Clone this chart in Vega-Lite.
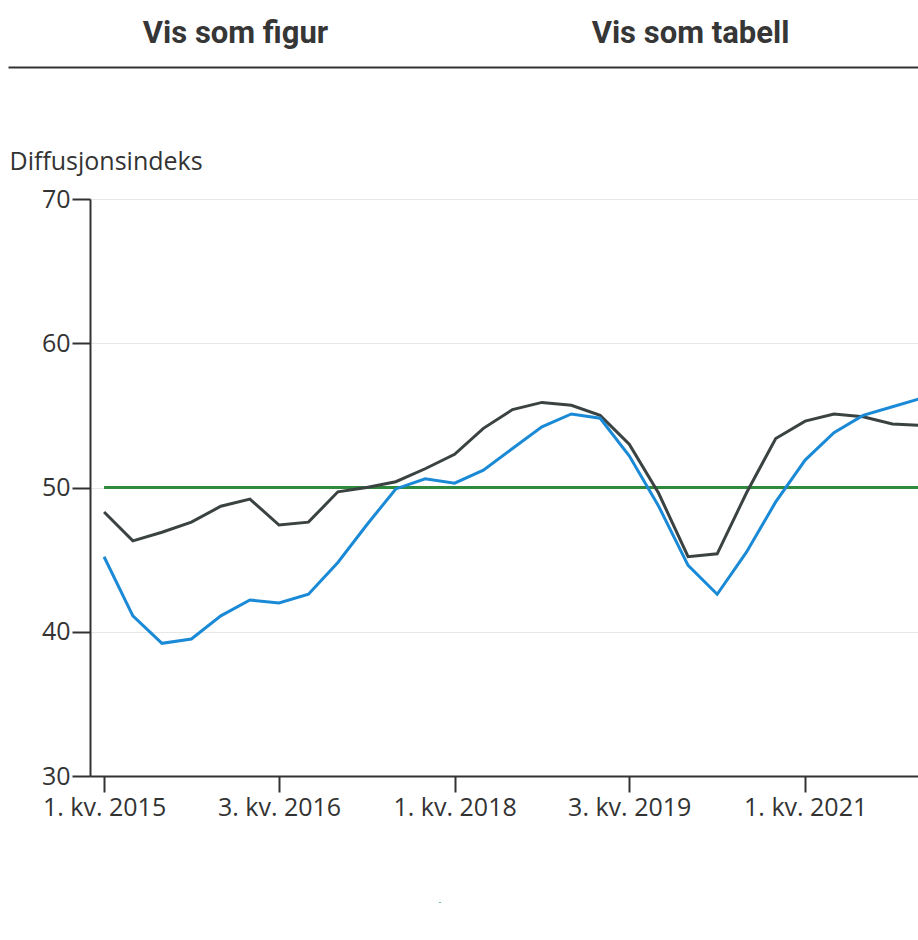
{
  "$schema": "https://vega.github.io/schema/vega-lite/v6.json",
  "padding": {"left": 8, "top": 0, "right": 0, "bottom": 0},
  "spacing": 82,
  "config": {
    "view": {"stroke": null},
    "font": "Open Sans",
    "axis": {"labelFont": "Open Sans", "titleFont": "Open Sans", "labelColor": "#333333", "titleColor": "#333333"},
    "legend": {"labelFont": "Open Sans"}
  },
  "vconcat": [
    {
      "width": 910,
      "height": 67,
      "data": {"values": [{"fane": "Vis som figur"}, {"fane": "Vis som tabell"}]},
      "mark": {"type": "text", "font": "Roboto", "fontWeight": "bold", "fontSize": 31, "color": "#363636"},
      "encoding": {
        "x": {
          "field": "fane", "type": "nominal", "sort": null,
          "scale": {"paddingInner": 0, "paddingOuter": 0},
          "axis": {"title": null, "labels": false, "ticks": false, "grid": false, "domainColor": "#333333", "domainWidth": 2}
        },
        "text": {"field": "fane"}
      }
    },
    {
      "spacing": 0,
      "hconcat": [
        {
          "width": 1,
          "height": 1,
          "data": {"values": []},
          "mark": "point"
        },
        {
          "width": 829,
          "height": 577,
          "data": {"values": [
            {"kvartal": "2015-01-01", "serie": "Vendepunktsverdi", "verdi": 50},
            {"kvartal": "2015-04-01", "serie": "Vendepunktsverdi", "verdi": 50},
            {"kvartal": "2015-07-01", "serie": "Vendepunktsverdi", "verdi": 50},
            {"kvartal": "2015-10-01", "serie": "Vendepunktsverdi", "verdi": 50},
            {"kvartal": "2016-01-01", "serie": "Vendepunktsverdi", "verdi": 50},
            {"kvartal": "2016-04-01", "serie": "Vendepunktsverdi", "verdi": 50},
            {"kvartal": "2016-07-01", "serie": "Vendepunktsverdi", "verdi": 50},
            {"kvartal": "2016-10-01", "serie": "Vendepunktsverdi", "verdi": 50},
            {"kvartal": "2017-01-01", "serie": "Vendepunktsverdi", "verdi": 50},
            {"kvartal": "2017-04-01", "serie": "Vendepunktsverdi", "verdi": 50},
            {"kvartal": "2017-07-01", "serie": "Vendepunktsverdi", "verdi": 50},
            {"kvartal": "2017-10-01", "serie": "Vendepunktsverdi", "verdi": 50},
            {"kvartal": "2018-01-01", "serie": "Vendepunktsverdi", "verdi": 50},
            {"kvartal": "2018-04-01", "serie": "Vendepunktsverdi", "verdi": 50},
            {"kvartal": "2018-07-01", "serie": "Vendepunktsverdi", "verdi": 50},
            {"kvartal": "2018-10-01", "serie": "Vendepunktsverdi", "verdi": 50},
            {"kvartal": "2019-01-01", "serie": "Vendepunktsverdi", "verdi": 50},
            {"kvartal": "2019-04-01", "serie": "Vendepunktsverdi", "verdi": 50},
            {"kvartal": "2019-07-01", "serie": "Vendepunktsverdi", "verdi": 50},
            {"kvartal": "2019-10-01", "serie": "Vendepunktsverdi", "verdi": 50},
            {"kvartal": "2020-01-01", "serie": "Vendepunktsverdi", "verdi": 50},
            {"kvartal": "2020-04-01", "serie": "Vendepunktsverdi", "verdi": 50},
            {"kvartal": "2020-07-01", "serie": "Vendepunktsverdi", "verdi": 50},
            {"kvartal": "2020-10-01", "serie": "Vendepunktsverdi", "verdi": 50},
            {"kvartal": "2021-01-01", "serie": "Vendepunktsverdi", "verdi": 50},
            {"kvartal": "2021-04-01", "serie": "Vendepunktsverdi", "verdi": 50},
            {"kvartal": "2021-07-01", "serie": "Vendepunktsverdi", "verdi": 50},
            {"kvartal": "2021-10-01", "serie": "Vendepunktsverdi", "verdi": 50},
            {"kvartal": "2022-01-01", "serie": "Vendepunktsverdi", "verdi": 50},
            {"kvartal": "2015-01-01", "serie": "Totalt produksjonsvolum", "verdi": 48.3},
            {"kvartal": "2015-04-01", "serie": "Totalt produksjonsvolum", "verdi": 46.3},
            {"kvartal": "2015-07-01", "serie": "Totalt produksjonsvolum", "verdi": 46.9},
            {"kvartal": "2015-10-01", "serie": "Totalt produksjonsvolum", "verdi": 47.6},
            {"kvartal": "2016-01-01", "serie": "Totalt produksjonsvolum", "verdi": 48.7},
            {"kvartal": "2016-04-01", "serie": "Totalt produksjonsvolum", "verdi": 49.2},
            {"kvartal": "2016-07-01", "serie": "Totalt produksjonsvolum", "verdi": 47.4},
            {"kvartal": "2016-10-01", "serie": "Totalt produksjonsvolum", "verdi": 47.6},
            {"kvartal": "2017-01-01", "serie": "Totalt produksjonsvolum", "verdi": 49.7},
            {"kvartal": "2017-04-01", "serie": "Totalt produksjonsvolum", "verdi": 50.0},
            {"kvartal": "2017-07-01", "serie": "Totalt produksjonsvolum", "verdi": 50.4},
            {"kvartal": "2017-10-01", "serie": "Totalt produksjonsvolum", "verdi": 51.3},
            {"kvartal": "2018-01-01", "serie": "Totalt produksjonsvolum", "verdi": 52.3},
            {"kvartal": "2018-04-01", "serie": "Totalt produksjonsvolum", "verdi": 54.1},
            {"kvartal": "2018-07-01", "serie": "Totalt produksjonsvolum", "verdi": 55.4},
            {"kvartal": "2018-10-01", "serie": "Totalt produksjonsvolum", "verdi": 55.9},
            {"kvartal": "2019-01-01", "serie": "Totalt produksjonsvolum", "verdi": 55.7},
            {"kvartal": "2019-04-01", "serie": "Totalt produksjonsvolum", "verdi": 55.0},
            {"kvartal": "2019-07-01", "serie": "Totalt produksjonsvolum", "verdi": 53.0},
            {"kvartal": "2019-10-01", "serie": "Totalt produksjonsvolum", "verdi": 49.6},
            {"kvartal": "2020-01-01", "serie": "Totalt produksjonsvolum", "verdi": 45.2},
            {"kvartal": "2020-04-01", "serie": "Totalt produksjonsvolum", "verdi": 45.4},
            {"kvartal": "2020-07-01", "serie": "Totalt produksjonsvolum", "verdi": 49.6},
            {"kvartal": "2020-10-01", "serie": "Totalt produksjonsvolum", "verdi": 53.4},
            {"kvartal": "2021-01-01", "serie": "Totalt produksjonsvolum", "verdi": 54.6},
            {"kvartal": "2021-04-01", "serie": "Totalt produksjonsvolum", "verdi": 55.1},
            {"kvartal": "2021-07-01", "serie": "Totalt produksjonsvolum", "verdi": 54.9},
            {"kvartal": "2021-10-01", "serie": "Totalt produksjonsvolum", "verdi": 54.4},
            {"kvartal": "2022-01-01", "serie": "Totalt produksjonsvolum", "verdi": 54.3},
            {"kvartal": "2015-01-01", "serie": "Gjennomsnitt", "verdi": 45.2},
            {"kvartal": "2015-04-01", "serie": "Gjennomsnitt", "verdi": 41.1},
            {"kvartal": "2015-07-01", "serie": "Gjennomsnitt", "verdi": 39.2},
            {"kvartal": "2015-10-01", "serie": "Gjennomsnitt", "verdi": 39.5},
            {"kvartal": "2016-01-01", "serie": "Gjennomsnitt", "verdi": 41.1},
            {"kvartal": "2016-04-01", "serie": "Gjennomsnitt", "verdi": 42.2},
            {"kvartal": "2016-07-01", "serie": "Gjennomsnitt", "verdi": 42.0},
            {"kvartal": "2016-10-01", "serie": "Gjennomsnitt", "verdi": 42.6},
            {"kvartal": "2017-01-01", "serie": "Gjennomsnitt", "verdi": 44.8},
            {"kvartal": "2017-04-01", "serie": "Gjennomsnitt", "verdi": 47.4},
            {"kvartal": "2017-07-01", "serie": "Gjennomsnitt", "verdi": 49.9},
            {"kvartal": "2017-10-01", "serie": "Gjennomsnitt", "verdi": 50.6},
            {"kvartal": "2018-01-01", "serie": "Gjennomsnitt", "verdi": 50.3},
            {"kvartal": "2018-04-01", "serie": "Gjennomsnitt", "verdi": 51.2},
            {"kvartal": "2018-07-01", "serie": "Gjennomsnitt", "verdi": 52.7},
            {"kvartal": "2018-10-01", "serie": "Gjennomsnitt", "verdi": 54.2},
            {"kvartal": "2019-01-01", "serie": "Gjennomsnitt", "verdi": 55.1},
            {"kvartal": "2019-04-01", "serie": "Gjennomsnitt", "verdi": 54.8},
            {"kvartal": "2019-07-01", "serie": "Gjennomsnitt", "verdi": 52.2},
            {"kvartal": "2019-10-01", "serie": "Gjennomsnitt", "verdi": 48.7},
            {"kvartal": "2020-01-01", "serie": "Gjennomsnitt", "verdi": 44.6},
            {"kvartal": "2020-04-01", "serie": "Gjennomsnitt", "verdi": 42.6},
            {"kvartal": "2020-07-01", "serie": "Gjennomsnitt", "verdi": 45.5},
            {"kvartal": "2020-10-01", "serie": "Gjennomsnitt", "verdi": 49.0},
            {"kvartal": "2021-01-01", "serie": "Gjennomsnitt", "verdi": 51.9},
            {"kvartal": "2021-04-01", "serie": "Gjennomsnitt", "verdi": 53.8},
            {"kvartal": "2021-07-01", "serie": "Gjennomsnitt", "verdi": 55.0},
            {"kvartal": "2021-10-01", "serie": "Gjennomsnitt", "verdi": 55.6},
            {"kvartal": "2022-01-01", "serie": "Gjennomsnitt", "verdi": 56.2}
          ]},
          "mark": {"type": "line", "strokeWidth": 3, "clip": true},
          "encoding": {
            "x": {
              "field": "kvartal", "type": "temporal",
              "scale": {"type": "utc", "domain": [{"year": 2014, "month": 11, "date": 18, "utc": true}, {"year": 2021, "month": 12, "date": 23, "utc": true}]},
              "axis": {
                "title": null, "grid": false, "format": "%q. kv. %Y",
                "values": [
                  {"year": 2015, "month": 1, "date": 1, "utc": true},
                  {"year": 2016, "month": 7, "date": 1, "utc": true},
                  {"year": 2018, "month": 1, "date": 1, "utc": true},
                  {"year": 2019, "month": 7, "date": 1, "utc": true},
                  {"year": 2021, "month": 1, "date": 1, "utc": true}
                ],
                "labelFontSize": 25, "labelPadding": 3,
                "tickSize": 16, "tickWidth": 2, "tickColor": "#333333",
                "domainColor": "#333333", "domainWidth": 2
              }
            },
            "y": {
              "field": "verdi", "type": "quantitative",
              "scale": {"domain": [30, 70], "nice": false, "zero": false},
              "axis": {
                "values": [30, 40, 50, 60, 70],
                "title": "Diffusjonsindeks", "titleAngle": 0, "titleAlign": "left", "titleBaseline": "alphabetic",
                "titleX": -81, "titleY": -30, "titleFontSize": 25, "titleFontWeight": "normal",
                "labelFontSize": 25, "labelPadding": 2,
                "tickSize": 18, "tickWidth": 2, "tickColor": "#333333",
                "domainColor": "#333333", "domainWidth": 2,
                "grid": true, "gridColor": "#e6e6e6", "gridWidth": 1
              }
            },
            "color": {
              "field": "serie", "type": "nominal",
              "scale": {"domain": ["Vendepunktsverdi", "Totalt produksjonsvolum", "Gjennomsnitt"], "range": ["#2f8a3c", "#3b4242", "#1a8ad6"]},
              "legend": null
            }
          }
        }
      ]
    },
    {
      "spacing": 0,
      "hconcat": [
        {
          "width": 82,
          "height": 1,
          "data": {"values": []},
          "mark": "point"
        },
        {
          "width": 700,
          "height": 1,
          "data": {"values": [
            {"serie": "Vendepunktsverdi"},
            {"serie": "Totalt produksjonsvolum"},
            {"serie": "Gjennomsnitt"}
          ]},
          "mark": {"type": "point", "filled": true, "size": 1},
          "encoding": {
            "fill": {
              "field": "serie", "type": "nominal",
              "scale": {"domain": ["Vendepunktsverdi", "Totalt produksjonsvolum", "Gjennomsnitt"], "range": ["#2f8a3c", "#3b4242", "#1a8ad6"]},
              "legend": {
                "title": null, "orient": "bottom", "offset": 7,
                "symbolSize": 144, "symbolOffset": 5,
                "labelFontSize": 24, "labelColor": "#333333", "labelOffset": 24, "columnPadding": 20, "labelLimit": 400
              }
            },
            "shape": {
              "field": "serie", "type": "nominal",
              "scale": {"domain": ["Vendepunktsverdi", "Totalt produksjonsvolum", "Gjennomsnitt"], "range": ["circle", "diamond", "square"]},
              "legend": {
                "title": null, "orient": "bottom", "offset": 7,
                "symbolSize": 144, "symbolOffset": 5,
                "labelFontSize": 24, "labelColor": "#333333", "labelOffset": 24, "columnPadding": 20, "labelLimit": 400
              }
            }
          }
        }
      ]
    }
  ]
}
